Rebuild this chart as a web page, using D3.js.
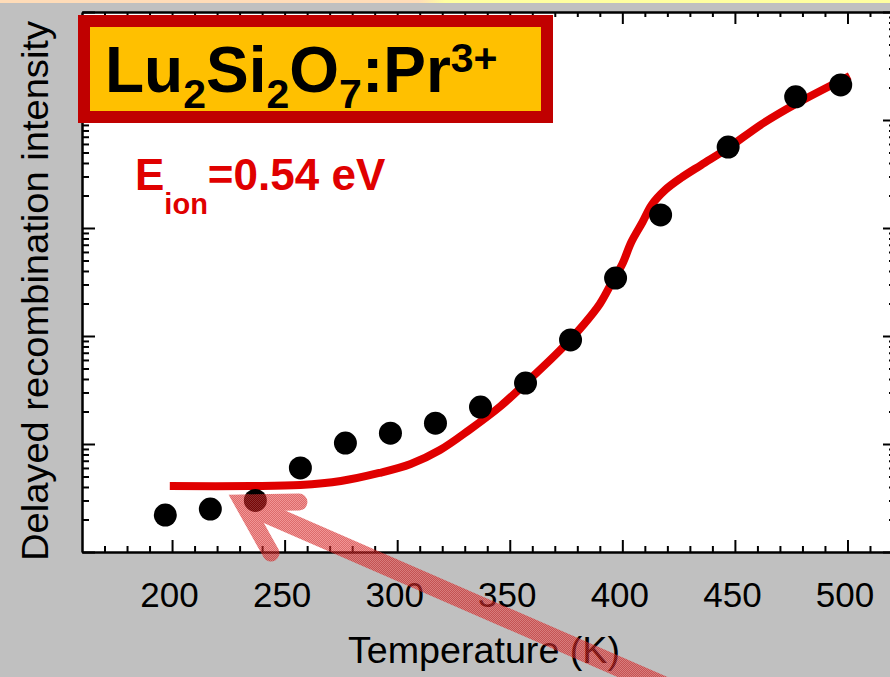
<!DOCTYPE html>
<html>
<head>
<meta charset="utf-8">
<script src="https://cdn.jsdelivr.net/npm/d3@7"></script>
<style>
  body { margin: 0; background: #c0c0c0; }
  svg { display: block; font-family: "Liberation Sans", Arial, sans-serif; }
</style>
</head>
<body>
<script>
// measured points (temperature K, delayed recombination intensity, arb. units)
var temps = [197, 217, 237, 257, 277, 297, 317, 337, 357, 377, 397, 417, 447, 477, 497];
var intensity = [2.2, 2.5, 3.0, 6.0, 10.2, 12.6, 15.6, 22.0, 36.7, 92, 344, 1320, 5620, 16400, 21100];

// fitted curve
var fitT = [199, 235, 257, 275, 292, 306, 319, 332, 346, 359, 372, 383, 390, 395, 400, 404, 409, 413, 419, 426, 435, 447, 462, 477, 501];
var fitI = [4.08, 4.08, 4.17, 4.54, 5.39, 6.53, 8.8, 13.5, 22.5, 40.0, 72.6, 129, 198, 303, 464, 742, 1137, 1633, 2248, 2904, 3831, 5506, 9183, 14070, 25560];

var xMajor = [200, 250, 300, 350, 400, 450, 500];
var xMinor = d3.range(170, 521, 10).filter(function(d){ return d % 50 != 0; });
var yMajor = [1, 10, 100, 1e3, 1e4, 1e5];
var yMinor = [];
[1, 10, 100, 1e3, 1e4].forEach(function(dec){
  for (var k = 2; k <= 9; k++) yMinor.push(k * dec);
});

var width = 890, height = 677;

var svg = d3.select("body").append("svg")
    .attr("width", width)
    .attr("height", height);

var x = d3.scaleLinear().domain([160, 522]).range([82, 897]);
var y = d3.scaleLog().domain([1, 1e5]).range([552, 12]);

// background + top strip
svg.append("rect").attr("width", width).attr("height", height).attr("fill", "#c0c0c0");
var grad = svg.append("defs").append("linearGradient").attr("id", "strip");
grad.append("stop").attr("offset", "0.47").attr("stop-color", "#ffdcb8");
grad.append("stop").attr("offset", "0.5").attr("stop-color", "#ffffa0");
svg.append("rect").attr("width", width).attr("height", 3).attr("fill", "url(#strip)");

// arrow texture
var pat = svg.select("defs").append("pattern")
    .attr("id", "hatch").attr("patternUnits", "userSpaceOnUse")
    .attr("width", 2).attr("height", 2);
pat.append("rect").attr("width", 2).attr("height", 2).attr("fill", "#c80a0a");
pat.append("rect").attr("width", 1).attr("height", 1).attr("fill", "#e85050");
pat.append("rect").attr("x", 1).attr("y", 1).attr("width", 1).attr("height", 1).attr("fill", "#e85050");

// plot area
svg.append("rect")
  .attr("x", x(160)).attr("y", y(1e5))
  .attr("width", x(522) - x(160)).attr("height", y(1) - y(1e5))
  .attr("fill", "#fff");

function styleAxis(g) {
  g.select(".domain").attr("stroke-width", 2.5).attr("stroke", "#000");
  g.selectAll(".tick line").attr("stroke-width", 2).attr("stroke", "#000");
}

// bottom
svg.append("g").attr("transform", "translate(0," + y(1) + ")")
  .call(d3.axisBottom(x).tickValues(xMinor).tickSize(-6).tickSizeOuter(0).tickFormat(""))
  .call(function(g){ g.select(".domain").remove(); styleAxis(g); });
var bx = svg.append("g").attr("transform", "translate(0," + y(1) + ")")
  .call(d3.axisBottom(x).tickValues(xMajor).tickSize(-12).tickSizeOuter(0).tickPadding(30).tickFormat(d3.format("d")))
  .call(styleAxis);
bx.selectAll("text")
  .attr("font-size", 35).attr("font-family", "Liberation Sans, Arial, sans-serif")
  .attr("fill", "#000").attr("dx", -3);

// top
svg.append("g").attr("transform", "translate(0," + y(1e5) + ")")
  .call(d3.axisTop(x).tickValues(xMinor).tickSize(-5).tickSizeOuter(0).tickFormat(""))
  .call(function(g){ g.select(".domain").remove(); styleAxis(g); });
svg.append("g").attr("transform", "translate(0," + y(1e5) + ")")
  .call(d3.axisTop(x).tickValues(xMajor).tickSize(-12).tickSizeOuter(0).tickFormat(""))
  .call(styleAxis);

// left
svg.append("g").attr("transform", "translate(" + x(160) + ",0)")
  .call(d3.axisLeft(y).tickValues(yMinor).tickSize(-7).tickSizeOuter(0).tickFormat(""))
  .call(function(g){ g.select(".domain").remove(); styleAxis(g); });
svg.append("g").attr("transform", "translate(" + x(160) + ",0)")
  .call(d3.axisLeft(y).tickValues(yMajor).tickSize(-13).tickSizeOuter(0).tickFormat(""))
  .call(styleAxis);

// right
svg.append("g").attr("transform", "translate(" + x(522) + ",0)")
  .call(d3.axisRight(y).tickValues(yMinor).tickSize(-8).tickSizeOuter(0).tickFormat(""))
  .call(function(g){ g.select(".domain").remove(); styleAxis(g); });
svg.append("g").attr("transform", "translate(" + x(522) + ",0)")
  .call(d3.axisRight(y).tickValues(yMajor).tickSize(-14).tickSizeOuter(0).tickFormat(""))
  .call(styleAxis);

// fit curve
var fit = fitT.map(function(t, i){ return {T: t, I: fitI[i]}; });
var line = d3.line()
  .x(function(d){ return x(d.T); })
  .y(function(d){ return y(d.I); })
  .curve(d3.curveCatmullRom.alpha(0.5));
svg.append("path").datum(fit)
  .attr("d", line)
  .attr("fill", "none")
  .attr("stroke", "#e00000")
  .attr("stroke-width", 8);

// data points
svg.selectAll(".dot").data(temps)
  .enter().append("circle")
  .attr("class", "dot")
  .attr("cx", function(d){ return x(d); })
  .attr("cy", function(d, i){ return y(intensity[i]); })
  .attr("r", 11.5)
  .attr("fill", "#000");

// title box
svg.append("rect")
  .attr("x", 84).attr("y", 21).attr("width", 463).attr("height", 96)
  .attr("fill", "#ffc000").attr("stroke", "#c00000").attr("stroke-width", 12);
var title = svg.append("text").attr("x", 105).attr("y", 92)
  .attr("font-weight", "bold").attr("font-size", 64).attr("fill", "#000");
title.append("tspan").text("Lu");
title.append("tspan").attr("font-size", 41).attr("dy", 16).text("2");
title.append("tspan").attr("dy", -16).text("Si");
title.append("tspan").attr("font-size", 41).attr("dy", 16).text("2");
title.append("tspan").attr("dy", -16).text("O");
title.append("tspan").attr("font-size", 41).attr("dy", 16).text("7");
title.append("tspan").attr("dy", -16).text(":Pr");
title.append("tspan").attr("font-size", 41).attr("dy", -20).text("3+");

// activation energy label
var eion = svg.append("text").attr("x", 135).attr("y", 190)
  .attr("font-weight", "bold").attr("font-size", 44).attr("fill", "#e00000");
eion.append("tspan").text("E");
eion.append("tspan").attr("font-size", 29).attr("dy", 24).text("ion");
eion.append("tspan").attr("dy", -24).text("=0.54 eV");

// axis titles
svg.append("text")
  .attr("x", 348).attr("y", 663)
  .attr("font-size", 36).attr("fill", "#000")
  .attr("textLength", 272).attr("lengthAdjust", "spacingAndGlyphs")
  .text("Temperature (K)");
svg.append("text")
  .attr("transform", "translate(48,291) rotate(-90)")
  .attr("text-anchor", "middle")
  .attr("font-size", 36).attr("fill", "#000")
  .attr("textLength", 540).attr("lengthAdjust", "spacingAndGlyphs")
  .text("Delayed recombination intensity");

// arrow pointing at the low temperature points
var vx = x(231.5), vy = y(2.84);
var arrow = svg.append("g").attr("opacity", 0.6);
arrow.append("path")
  .attr("d", "M" + (vx + 480) + "," + (vy + 209) + "L" + vx + "," + vy)
  .attr("stroke", "url(#hatch)").attr("stroke-width", 20).attr("fill", "none");
arrow.append("path")
  .attr("d", "M" + (vx + 56) + "," + (vy - 1) + "L" + vx + "," + vy + "L" + (vx + 28) + "," + (vy + 50))
  .attr("stroke", "url(#hatch)").attr("stroke-width", 17).attr("fill", "none")
  .attr("stroke-linecap", "round").attr("stroke-linejoin", "miter").attr("stroke-miterlimit", 4);
</script>
</body>
</html>
